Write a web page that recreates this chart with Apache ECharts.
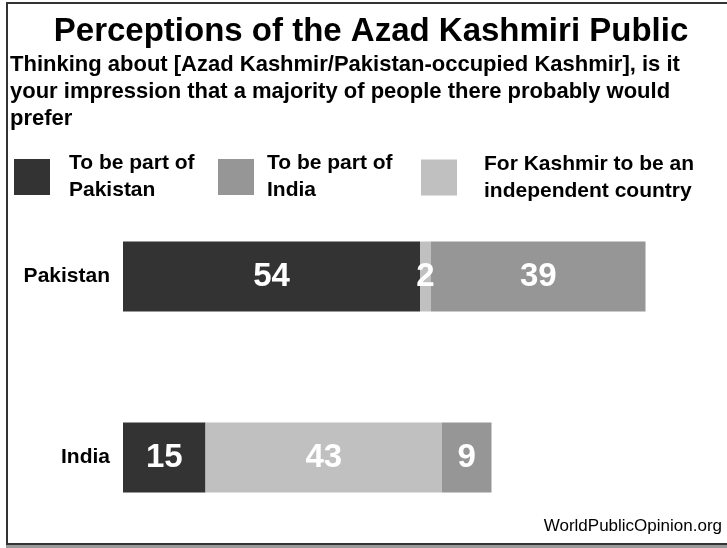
<!DOCTYPE html>
<html>
<head>
<meta charset="utf-8">
<script src="https://cdn.jsdelivr.net/npm/echarts@6/dist/echarts.min.js"></script>
<style>
  html, body { margin: 0; padding: 0; background: #fff; }
  #frame {
    position: absolute; left: 6px; top: 2px; width: 740px; height: 539px;
    border-left: 2px solid #333; border-top: 2px solid #333; border-bottom: 2px solid #333;
    box-shadow: 0 3px 0 #999;
  }
  #chart { position: absolute; left: 0; top: 0; width: 727px; height: 548px; }
</style>
</head>
<body>
<div id="frame"></div>
<div id="chart"></div>
<script>
var countries = ['Pakistan', 'India'];
var partOfPakistan = [54, 15];
var independent = [2, 43];
var partOfIndia = [39, 9];

var names = {
  pak: 'To be part of\nPakistan',
  ind: 'To be part of\nIndia',
  indep: 'For Kashmir to be an\nindependent country'
};

var font = 'Liberation Sans, Arial, sans-serif';

var chart = echarts.init(document.getElementById('chart'));

// one legend per item so each square can sit where the original has it
// (top = top of the two-line text; bottom padding pushes the square down)
function legendAt(left, top, name, textPad) {
  return {
    left: left,
    top: top,
    padding: 0,
    icon: 'rect',
    itemWidth: 36,
    itemHeight: 36,
    selectedMode: false,
    data: [name],
    textStyle: {
      fontFamily: font,
      fontWeight: 'bold',
      fontSize: 21,
      lineHeight: 27,
      color: '#000',
      padding: textPad
    }
  };
}

function barSeries(name, data, color) {
  return {
    name: name,
    type: 'bar',
    stack: 'total',
    barWidth: 70,
    data: data,
    itemStyle: { color: color },
    label: {
      show: true,
      position: 'inside',
      color: '#fff',
      fontFamily: font,
      fontWeight: 'bold',
      fontSize: 33
    }
  };
}

chart.setOption({
  animation: false,
  title: [{
    text: 'Perceptions of the Azad Kashmiri Public',
    left: 371,
    textAlign: 'center',
    top: 15,
    padding: 0,
    textStyle: { fontFamily: font, fontWeight: 'bold', fontSize: 33, color: '#000' }
  }, {
    text: 'Thinking about [Azad Kashmir/Pakistan-occupied Kashmir], is it\nyour impression that a majority of people there probably would\nprefer',
    left: 10,
    top: 51,
    padding: 0,
    textStyle: { fontFamily: font, fontWeight: 'bold', fontSize: 22, lineHeight: 27, color: '#000' }
  }, {
    text: 'WorldPublicOpinion.org',
    right: 5,
    top: 518,
    padding: 0,
    textStyle: { fontFamily: font, fontWeight: 'normal', fontSize: 17, color: '#000' }
  }],
  legend: [
    legendAt(14, 150, names.pak, [0, 0, 0, 14]),
    legendAt(218, 150, names.ind, [0, 0, 0, 8]),
    legendAt(421, 147, names.indep, [0, 0, 7, 22])
  ],
  grid: { left: 123, top: 186, width: 550, height: 362 },
  xAxis: {
    type: 'value',
    min: 0,
    max: 100,
    show: false
  },
  yAxis: {
    type: 'category',
    inverse: true,
    data: countries,
    axisLine: { show: false },
    axisTick: { show: false },
    axisLabel: {
      margin: 13,
      fontFamily: font,
      fontWeight: 'bold',
      fontSize: 21,
      color: '#000'
    }
  },
  series: [
    barSeries(names.pak, partOfPakistan, '#333333'),
    barSeries(names.indep, independent, '#c0c0c0'),
    barSeries(names.ind, partOfIndia, '#969696')
  ]
});
</script>
</body>
</html>
